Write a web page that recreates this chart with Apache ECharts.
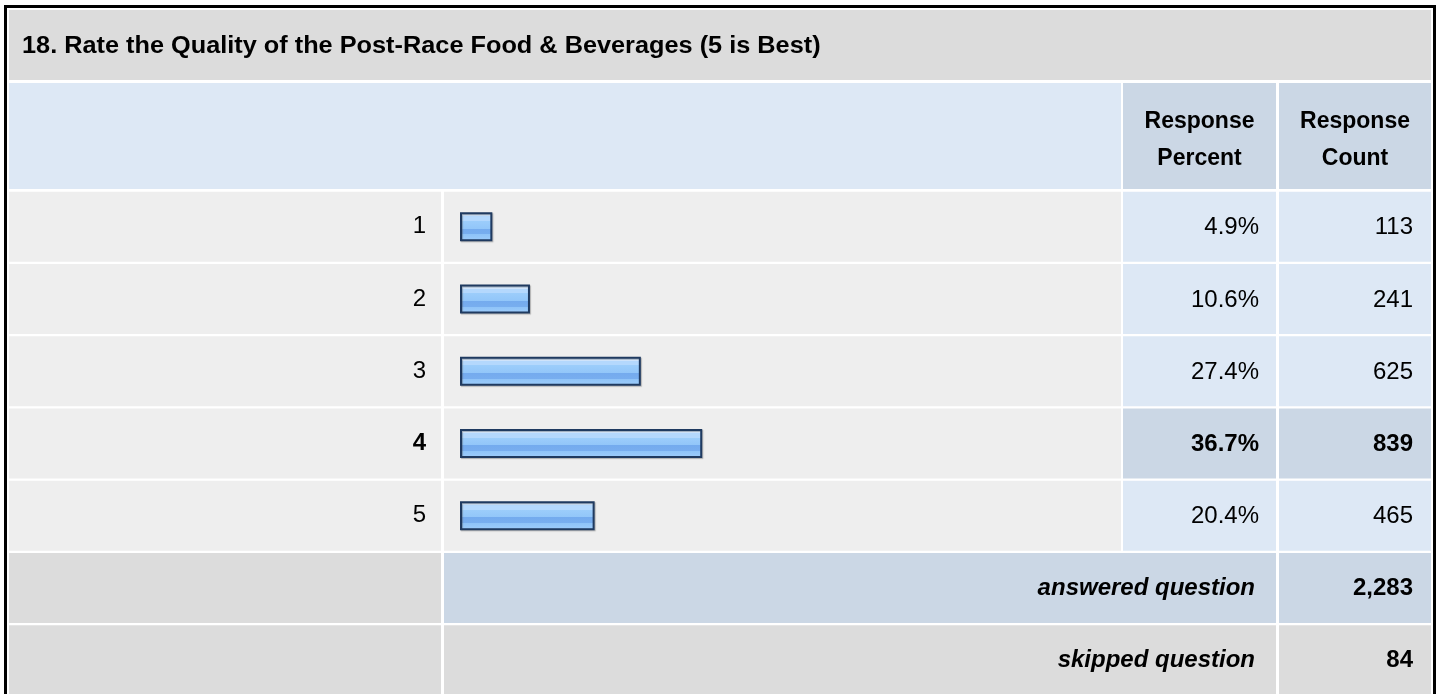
<!DOCTYPE html>
<html>
<head>
<meta charset="utf-8">
<script src="https://cdn.jsdelivr.net/npm/echarts@6/dist/echarts.min.js"></script>
<style>
  html, body { margin: 0; padding: 0; background: #fff; }
  #chart { width: 1440px; height: 694px; }
</style>
</head>
<body>
<div id="chart"></div>
<script>
// Survey question and its answers
const questionTitle = '18. Rate the Quality of the Post-Race Food & Beverages (5 is Best)';
const categories = ['1', '2', '3', '4', '5'];
const percents = [4.9, 10.6, 27.4, 36.7, 20.4];
const counts = [113, 241, 625, 839, 465];
const headerLabels = ['Response\nPercent', 'Response\nCount'];
const answeredLabel = 'answered question';
const skippedLabel = 'skipped question';
const answeredCount = 2283;
const skippedCount = 84;

// Table layout
const FONT = '"Liberation Sans", Arial, Helvetica, sans-serif';
const FS = 24;       // body cells
const FS_HEAD = 23;  // column headers and title
const COL = {
  label: [9, 441],
  bar: [444, 1121],
  pct: [1123, 1276],
  cnt: [1279, 1431]
};
const C = {
  grey: '#dcdcdc',
  light: '#dde8f5',
  mid: '#cbd7e5',
  row: '#eeeeee',
  text: '#000000'
};

const maxIdx = percents.indexOf(Math.max(...percents));

const chart = echarts.init(document.getElementById('chart'), null, { renderer: 'canvas' });

const barFill = new echarts.graphic.LinearGradient(0, 0, 0, 1, [
  { offset: 0.00, color: '#d3e8ff' },
  { offset: 0.14, color: '#d3e8ff' },
  { offset: 0.14, color: '#b4d8fd' },
  { offset: 0.30, color: '#b4d8fd' },
  { offset: 0.30, color: '#9ccdfb' },
  { offset: 0.56, color: '#92c6f9' },
  { offset: 0.56, color: '#74abee' },
  { offset: 0.76, color: '#78aeef' },
  { offset: 0.76, color: '#8ec3f8' },
  { offset: 1.00, color: '#9fcdfb' }
]);

chart.setOption({
  animation: false,
  grid: { left: 460, right: 320, top: 190.75, height: 361, containLabel: false },
  xAxis: {
    type: 'value', min: 0, max: 100,
    show: false
  },
  yAxis: {
    type: 'category',
    data: categories,
    inverse: true,
    axisLine: { show: false },
    axisTick: { show: false },
    splitLine: { show: false },
    axisLabel: {
      margin: 34,
      fontFamily: FONT,
      fontSize: FS,
      color: C.text,
      formatter: function (v, i) {
        return i === maxIdx ? '{b|' + v + '}' : '{n|' + v + '}';
      },
      rich: {
        n: { fontFamily: FONT, fontSize: FS, color: C.text },
        b: { fontFamily: FONT, fontSize: FS, fontWeight: 'bold', color: C.text }
      }
    }
  },
  series: [{
    type: 'bar',
    data: percents,
    barWidth: 29,
    itemStyle: {
      color: barFill,
      borderColor: '#1f3a60',
      borderWidth: 2,
      shadowColor: 'rgba(60,60,60,0.35)',
      shadowOffsetX: 1,
      shadowOffsetY: 1,
      shadowBlur: 1
    },
    z: 5
  }]
});

// Cell backgrounds and texts, rows positioned from the category axis
const rowY = categories.map(c => chart.convertToPixel({ yAxisIndex: 0 }, c));
const pitch = rowY[1] - rowY[0];
const cellH = pitch - 2.2;

const g = [];
function cell(x0, x1, y0, h, fill) {
  g.push({ type: 'rect', z: -5, shape: { x: x0, y: y0, width: x1 - x0, height: h }, style: { fill: fill } });
}
function txt(text, x, y, align, opts) {
  opts = opts || {};
  const size = opts.size || FS;
  g.push({
    type: 'text', z: 20, x: x, y: y,
    scaleX: opts.sx || 1,
    style: {
      text: text,
      fontFamily: FONT,
      fontSize: size,
      fontWeight: opts.bold ? 'bold' : 'normal',
      fontStyle: opts.italic ? 'italic' : 'normal',
      fill: C.text,
      align: align,
      verticalAlign: 'middle',
      lineHeight: opts.lh || size * 1.2
    }
  });
}

// outer frame
g.push({ type: 'rect', z: -6, shape: { x: 5.5, y: 6.5, width: 1429, height: 720 }, style: { fill: '#fff', stroke: '#000', lineWidth: 3 } });

// title row
cell(COL.label[0], COL.cnt[1], 10, 70, C.grey);
txt(questionTitle, 22, 47, 'left', { bold: true, size: FS_HEAD, sx: 1.1 });

// header row
cell(COL.label[0], COL.bar[1], 83, 106, C.light);
cell(COL.pct[0], COL.pct[1], 83, 106, C.mid);
cell(COL.cnt[0], COL.cnt[1], 83, 106, C.mid);
txt(headerLabels[0], (COL.pct[0] + COL.pct[1]) / 2, 140, 'center', { bold: true, lh: 37, size: FS_HEAD });
txt(headerLabels[1], (COL.cnt[0] + COL.cnt[1]) / 2, 140, 'center', { bold: true, lh: 37, size: FS_HEAD });

// answer rows
categories.forEach((c, i) => {
  const top = rowY[i] - cellH / 2;
  const hi = i === maxIdx;
  cell(COL.label[0], COL.label[1], top, cellH, C.row);
  cell(COL.bar[0], COL.bar[1], top, cellH, C.row);
  cell(COL.pct[0], COL.pct[1], top, cellH, hi ? C.mid : C.light);
  cell(COL.cnt[0], COL.cnt[1], top, cellH, hi ? C.mid : C.light);
  txt(percents[i].toFixed(1) + '%', COL.pct[1] - 17, rowY[i] + 1, 'right', { bold: hi });
  txt(String(counts[i]), COL.cnt[1] - 18, rowY[i] + 1, 'right', { bold: hi });
});

// summary rows
const ansTop = rowY[rowY.length - 1] + pitch / 2 + 1.2;
cell(COL.label[0], COL.label[1], ansTop, cellH, C.grey);
cell(COL.bar[0], COL.pct[1], ansTop, cellH, C.mid);
cell(COL.cnt[0], COL.cnt[1], ansTop, cellH, C.mid);
txt(answeredLabel, COL.pct[1] - 21, ansTop + cellH / 2, 'right', { bold: true, italic: true });
txt(answeredCount.toLocaleString('en-US'), COL.cnt[1] - 18, ansTop + cellH / 2, 'right', { bold: true });

const skTop = ansTop + pitch;
cell(COL.label[0], COL.label[1], skTop, 80, C.grey);
cell(COL.bar[0], COL.pct[1], skTop, 80, C.grey);
cell(COL.cnt[0], COL.cnt[1], skTop, 80, C.grey);
txt(skippedLabel, COL.pct[1] - 21, skTop + cellH / 2, 'right', { bold: true, italic: true });
txt(String(skippedCount), COL.cnt[1] - 18, skTop + cellH / 2, 'right', { bold: true });

chart.setOption({ graphic: { elements: g } });
</script>
</body>
</html>
